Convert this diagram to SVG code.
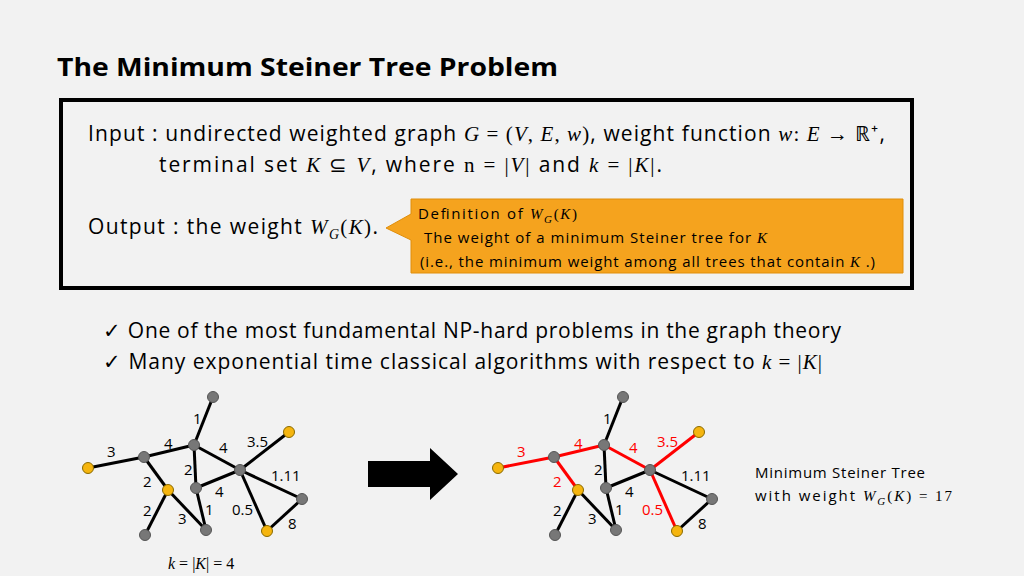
<svg xmlns="http://www.w3.org/2000/svg" width="1024" height="576" viewBox="0 0 1024 576">
<style>
text{font-family:"Open Sans","Noto Sans",sans-serif;fill:#000}
.m{font-family:"Liberation Serif",serif;font-style:italic}
.r{font-family:"Liberation Serif",serif}
.e line{stroke:#000;stroke-width:3}
.e line.red{stroke:#f00}
.g{fill:#777;stroke:#555;stroke-width:1}
.y{fill:#f5b50f;stroke:#8a6a00;stroke-width:1}
.w{font-size:15px}
.wr{font-size:15px;fill:#f00}
</style>
<rect width="1024" height="576" fill="#f2f2f2"/>
<text x="57" y="76" font-size="25" font-weight="bold" textLength="501" lengthAdjust="spacingAndGlyphs">The Minimum Steiner Tree Problem</text>
<rect x="61" y="100" width="851" height="188" fill="#f2f2f2" stroke="#000" stroke-width="4"/>
<text x="88" y="141" font-size="21" textLength="797" lengthAdjust="spacing">Input : undirected weighted graph <tspan class="m">G</tspan><tspan class="r"> = (</tspan><tspan class="m">V</tspan><tspan class="r">, </tspan><tspan class="m">E</tspan><tspan class="r">, </tspan><tspan class="m">w</tspan><tspan class="r">)</tspan>, weight function <tspan class="m">w</tspan><tspan class="r">: </tspan><tspan class="m">E</tspan><tspan class="r"> → ℝ⁺</tspan>,</text>
<text x="159" y="172" font-size="21" textLength="503" lengthAdjust="spacing">terminal set <tspan class="m">K</tspan><tspan class="r"> ⊆ </tspan><tspan class="m">V</tspan>, where <tspan class="r">n = |</tspan><tspan class="m">V</tspan><tspan class="r">|</tspan> and <tspan class="m">k</tspan><tspan class="r"> = |</tspan><tspan class="m">K</tspan><tspan class="r">|</tspan>.</text>
<text x="88" y="234" font-size="21" textLength="290" lengthAdjust="spacing">Output : the weight <tspan class="m">W</tspan><tspan class="m" font-size="14" dy="5">G</tspan><tspan class="r" dy="-5">(</tspan><tspan class="m">K</tspan><tspan class="r">)</tspan>.</text>
<path d="M411,199 H903 V273 H411 V240 L386,228 L411,214 Z" fill="#f5a31e" stroke="#e08e0a" stroke-width="1"/>
<text x="418" y="219" font-size="15" textLength="159" lengthAdjust="spacing">Definition of <tspan class="m">W</tspan><tspan class="m" font-size="11" dy="4">G</tspan><tspan class="r" dy="-4">(</tspan><tspan class="m">K</tspan><tspan class="r">)</tspan></text>
<text x="424" y="243" font-size="15" textLength="343" lengthAdjust="spacing">The weight of a minimum Steiner tree for <tspan class="m">K</tspan></text>
<text x="420" y="267" font-size="15" textLength="455" lengthAdjust="spacing">(i.e., the minimum weight among all trees that contain <tspan class="m">K</tspan> .)</text>
<text x="103" y="338" font-size="21" textLength="738" lengthAdjust="spacing">✓ One of the most fundamental NP-hard problems in the graph theory</text>
<text x="103" y="369" font-size="21" textLength="719" lengthAdjust="spacing">✓ Many exponential time classical algorithms with respect to <tspan class="m">k</tspan><tspan class="r"> = |</tspan><tspan class="m">K</tspan><tspan class="r">|</tspan></text>

<g id="connectors" class="e">
<line x1="213" y1="397" x2="194" y2="445"/><line x1="194" y1="445" x2="144" y2="457"/><line x1="144" y1="457" x2="88" y2="468"/><line x1="144" y1="457" x2="168" y2="490"/><line x1="168" y1="490" x2="145" y2="535"/><line x1="168" y1="490" x2="206" y2="530"/><line x1="194" y1="445" x2="196" y2="488"/><line x1="196" y1="488" x2="206" y2="530"/><line x1="196" y1="488" x2="240" y2="470"/><line x1="194" y1="445" x2="240" y2="470"/><line x1="240" y1="470" x2="289" y2="432"/><line x1="240" y1="470" x2="302" y2="499"/><line x1="240" y1="470" x2="267" y2="531"/><line x1="302" y1="499" x2="267" y2="531"/>
<g transform="translate(410,0)">
<line x1="213" y1="397" x2="194" y2="445"/><line class="red" x1="194" y1="445" x2="144" y2="457"/><line class="red" x1="144" y1="457" x2="88" y2="468"/><line class="red" x1="144" y1="457" x2="168" y2="490"/><line x1="168" y1="490" x2="145" y2="535"/><line x1="168" y1="490" x2="206" y2="530"/><line x1="194" y1="445" x2="196" y2="488"/><line x1="196" y1="488" x2="206" y2="530"/><line x1="196" y1="488" x2="240" y2="470"/><line class="red" x1="194" y1="445" x2="240" y2="470"/><line class="red" x1="240" y1="470" x2="289" y2="432"/><line x1="240" y1="470" x2="302" y2="499"/><line class="red" x1="240" y1="470" x2="267" y2="531"/><line x1="302" y1="499" x2="267" y2="531"/>
</g>
</g>

<g id="graph-left">
<circle class="g" cx="213" cy="397" r="5.5"/><circle class="g" cx="194" cy="445" r="5.5"/><circle class="g" cx="144" cy="457" r="5.5"/><circle class="y" cx="88" cy="468" r="5.5"/><circle class="y" cx="168" cy="490" r="5.5"/><circle class="g" cx="196" cy="488" r="5.5"/><circle class="g" cx="240" cy="470" r="5.5"/><circle class="y" cx="289" cy="432" r="5.5"/><circle class="g" cx="302" cy="499" r="5.5"/><circle class="y" cx="267" cy="531" r="5.5"/><circle class="g" cx="206" cy="530" r="5.5"/><circle class="g" cx="145" cy="535" r="5.5"/>
<text class="w" x="193" y="424">1</text><text class="w" x="164" y="449">4</text><text class="w" x="219" y="453">4</text><text class="w" x="247" y="447">3.5</text><text class="w" x="107" y="457">3</text><text class="w" x="184" y="475">2</text><text class="w" x="143" y="487">2</text><text class="w" x="271" y="481">1.11</text><text class="w" x="215" y="497">4</text><text class="w" x="143" y="516">2</text><text class="w" x="205" y="515">1</text><text class="w" x="232" y="515">0.5</text><text class="w" x="178" y="524">3</text><text class="w" x="288" y="529">8</text>
</g>
<g id="graph-right" transform="translate(410,0)">
<circle class="g" cx="213" cy="397" r="5.5"/><circle class="g" cx="194" cy="445" r="5.5"/><circle class="g" cx="144" cy="457" r="5.5"/><circle class="y" cx="88" cy="468" r="5.5"/><circle class="y" cx="168" cy="490" r="5.5"/><circle class="g" cx="196" cy="488" r="5.5"/><circle class="g" cx="240" cy="470" r="5.5"/><circle class="y" cx="289" cy="432" r="5.5"/><circle class="g" cx="302" cy="499" r="5.5"/><circle class="y" cx="267" cy="531" r="5.5"/><circle class="g" cx="206" cy="530" r="5.5"/><circle class="g" cx="145" cy="535" r="5.5"/>
<text class="w" x="193" y="424">1</text><text class="wr" x="164" y="449">4</text><text class="wr" x="219" y="453">4</text><text class="wr" x="247" y="447">3.5</text><text class="wr" x="107" y="457">3</text><text class="w" x="184" y="475">2</text><text class="wr" x="143" y="487">2</text><text class="w" x="271" y="481">1.11</text><text class="w" x="215" y="497">4</text><text class="w" x="143" y="516">2</text><text class="w" x="205" y="515">1</text><text class="wr" x="232" y="515">0.5</text><text class="w" x="178" y="524">3</text><text class="w" x="288" y="529">8</text>
</g>
<path id="arrow" d="M368,461 H430 V448 L458,474 L430,500 V487 H368 Z" fill="#000"/>
<text x="168" y="569" font-size="16"><tspan class="m">k</tspan><tspan class="r"> = |</tspan><tspan class="m">K</tspan><tspan class="r">| = 4</tspan></text>
<text x="755" y="478" font-size="15" textLength="170" lengthAdjust="spacing">Minimum Steiner Tree</text>
<text x="755" y="501" font-size="15" textLength="197" lengthAdjust="spacing">with weight <tspan class="m">W</tspan><tspan class="m" font-size="11" dy="4">G</tspan><tspan class="r" dy="-4">(</tspan><tspan class="m">K</tspan><tspan class="r">) = 17</tspan></text>
</svg>
